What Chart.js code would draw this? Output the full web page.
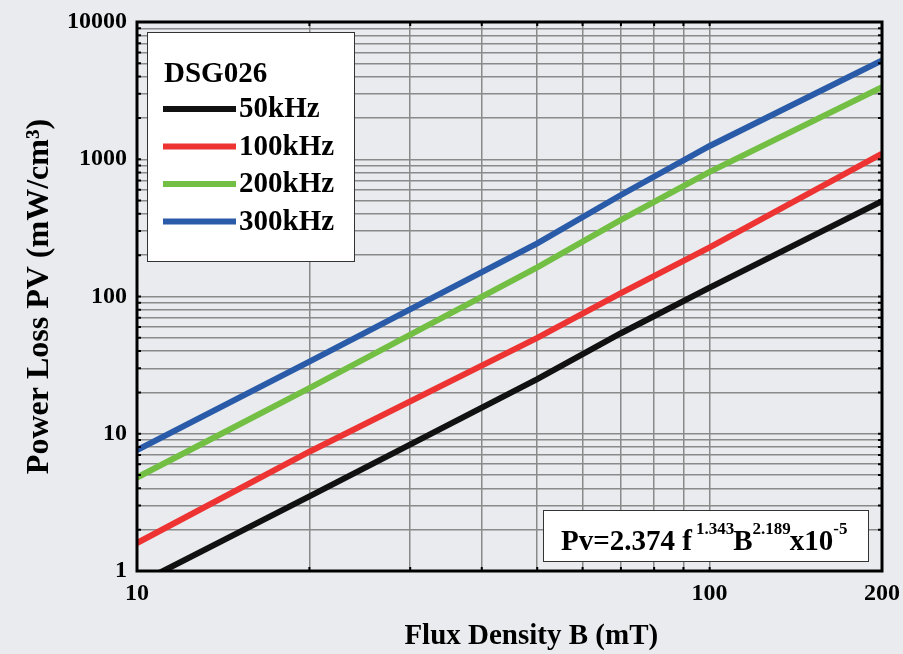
<!DOCTYPE html>
<html>
<head>
<meta charset="utf-8">
<script src="https://cdn.jsdelivr.net/npm/chart.js@4"></script>
<style>
  html, body { margin: 0; padding: 0; background: #e9ebee; }
  #wrap { width: 903px; height: 654px; }
</style>
</head>
<body>
<div id="wrap"><canvas id="myChart" width="903" height="654"></canvas></div>
<script>
// values (B in mT, Pv in mW/cm3)
const flux = [10, 20, 50, 70, 100, 200];
const loss50k = [0.8, 3.5, 25, 54, 116, 495];
const loss100k = [1.6, 7.4, 50, 106, 228, 1100];
const loss200k = [4.8, 21.5, 163, 361, 810, 3350];
const loss300k = [7.6, 33.5, 244, 549, 1250, 5250];

const seriesLabels = ['50kHz', '100kHz', '200kHz', '300kHz'];
const seriesColors = ['#111111', '#ee3333', '#72bf44', '#2a5ba8'];
const legendTitle = 'DSG026';

const xTicks = [10, 20, 30, 40, 50, 60, 70, 80, 90, 100, 200];
const xTickLabels = [10, 100, 200];
const yTicks = [1, 2, 3, 4, 5, 6, 7, 8, 9,
  10, 20, 30, 40, 50, 60, 70, 80, 90,
  100, 200, 300, 400, 500, 600, 700, 800, 900,
  1000, 2000, 3000, 4000, 5000, 6000, 7000, 8000, 9000, 10000];
const yTickLabels = [1, 10, 100, 1000, 10000];

const FONT = '"Liberation Serif", "Times New Roman", serif';

function pts(ys) {
  return flux.map((b, i) => ({ x: b, y: ys[i] }));
}

const allSeries = [loss50k, loss100k, loss200k, loss300k];

// frame, inner ticks, legend box and formula box
const overlay = {
  id: 'overlay',
  afterDraw(chart) {
    const { ctx, chartArea: a, scales } = chart;
    const xs = scales.x, ys = scales.y;
    ctx.save();

    ctx.strokeStyle = '#000';
    ctx.lineWidth = 2;
    ctx.beginPath();
    ys.ticks.forEach(t => {
      const py = ys.getPixelForValue(t.value);
      ctx.moveTo(a.left, py); ctx.lineTo(a.left + 4, py);
      ctx.moveTo(a.right - 4, py); ctx.lineTo(a.right, py);
    });
    xs.ticks.forEach(t => {
      const px = xs.getPixelForValue(t.value);
      ctx.moveTo(px, a.bottom); ctx.lineTo(px, a.bottom - 4);
      ctx.moveTo(px, a.top); ctx.lineTo(px, a.top + 4);
    });
    ctx.stroke();

    ctx.lineWidth = 3;
    ctx.strokeRect(a.left, a.top, a.right - a.left, a.bottom - a.top);

    // legend
    const lx = a.left + 10, ly = a.top + 10;
    ctx.fillStyle = '#fff';
    ctx.fillRect(lx, ly, 207, 229);
    ctx.lineWidth = 1;
    ctx.strokeStyle = '#333';
    ctx.strokeRect(lx + 0.5, ly + 0.5, 207, 229);

    ctx.fillStyle = '#000';
    ctx.font = 'bold 29px ' + FONT;
    ctx.textBaseline = 'middle';
    ctx.textAlign = 'left';
    ctx.fillText(legendTitle, lx + 17, ly + 43);
    chart.data.datasets.forEach((ds, i) => {
      const cy = ly + 77 + i * 37.5;
      ctx.strokeStyle = ds.borderColor;
      ctx.lineWidth = 6;
      ctx.beginPath();
      ctx.moveTo(lx + 16, cy);
      ctx.lineTo(lx + 89, cy);
      ctx.stroke();
      ctx.fillStyle = '#000';
      ctx.fillText(ds.label, lx + 92, cy + 1);
    });

    // formula
    const fx = a.right - 339, fy = a.bottom - 61;
    ctx.fillStyle = '#fff';
    ctx.fillRect(fx, fy, 325, 51);
    ctx.lineWidth = 1;
    ctx.strokeStyle = '#333';
    ctx.strokeRect(fx + 0.5, fy + 0.5, 325, 51);
    const parts = [
      ['Pv=2.374 f', false], ['1.343', true], ['B', false],
      ['2.189', true], ['x10', false], ['-5', true]
    ];
    let tx = fx + 18;
    const base = fy + 40;
    ctx.textBaseline = 'alphabetic';
    ctx.fillStyle = '#000';
    parts.forEach(([s, sup], i) => {
      ctx.font = (sup ? 'bold 17px ' : 'bold 29px ') + FONT;
      if (i === 1) tx += 4;
      ctx.fillText(s, tx, sup ? base - 16 : base);
      tx += ctx.measureText(s).width - (sup ? 1 : 0);
    });

    ctx.restore();
  }
};

const bgPlugin = {
  id: 'bg',
  beforeDraw(chart) {
    const { ctx } = chart;
    ctx.save();
    ctx.fillStyle = '#e9ebee';
    ctx.fillRect(0, 0, chart.width, chart.height);
    ctx.restore();
  }
};

const ctx = document.getElementById('myChart').getContext('2d');
const myChart = new Chart(ctx, {
  type: 'line',
  data: {
    datasets: allSeries.map((s, i) => ({
      label: seriesLabels[i],
      data: pts(s),
      borderColor: seriesColors[i],
      backgroundColor: seriesColors[i],
      borderWidth: 6,
      pointRadius: 0,
      tension: 0,
      fill: false
    }))
  },
  options: {
    responsive: false,
    animation: false,
    layout: { padding: { top: 22, right: 21, left: 0, bottom: 0 } },
    plugins: {
      legend: { display: false },
      tooltip: { enabled: false }
    },
    scales: {
      x: {
        type: 'logarithmic',
        min: 10,
        max: 200,
        afterBuildTicks: s => { s.ticks = xTicks.map(v => ({ value: v })); },
        afterFit: s => { s.height = 83; s.paddingLeft = 0; s.paddingRight = 0; },
        grid: {
          color: '#8a8a8a',
          lineWidth: 1.5,
          drawTicks: false
        },
        border: { display: false },
        ticks: {
          autoSkip: false,
          maxRotation: 0,
          padding: 8,
          color: '#000',
          font: { family: FONT, size: 24, weight: 'bold' },
          callback: v => xTickLabels.includes(v) ? String(v) : ''
        },
        title: {
          display: true,
          text: '\u2003\u2002Flux Density B (mT)',
          color: '#000',
          font: { family: FONT, size: 29, weight: 'bold' },
          padding: { top: 4, bottom: 0 }
        }
      },
      y: {
        type: 'logarithmic',
        min: 1,
        max: 10000,
        afterBuildTicks: s => { s.ticks = yTicks.map(v => ({ value: v })); },
        afterFit: s => { s.width = 137; s.paddingTop = 0; s.paddingBottom = 0; },
        grid: {
          color: '#8a8a8a',
          lineWidth: 1.5,
          drawTicks: false
        },
        border: { display: false },
        ticks: {
          autoSkip: false,
          padding: 10,
          color: '#000',
          font: { family: FONT, size: 24, weight: 'bold' },
          callback: v => yTickLabels.includes(v) ? String(v) : ''
        },
        title: {
          display: true,
          text: 'Power Loss PV (mW/cm³)',
          color: '#000',
          font: { family: FONT, size: 32, weight: 'bold' },
          padding: { top: 21, bottom: 0 }
        }
      }
    }
  },
  plugins: [bgPlugin, overlay]
});
</script>
</body>
</html>
